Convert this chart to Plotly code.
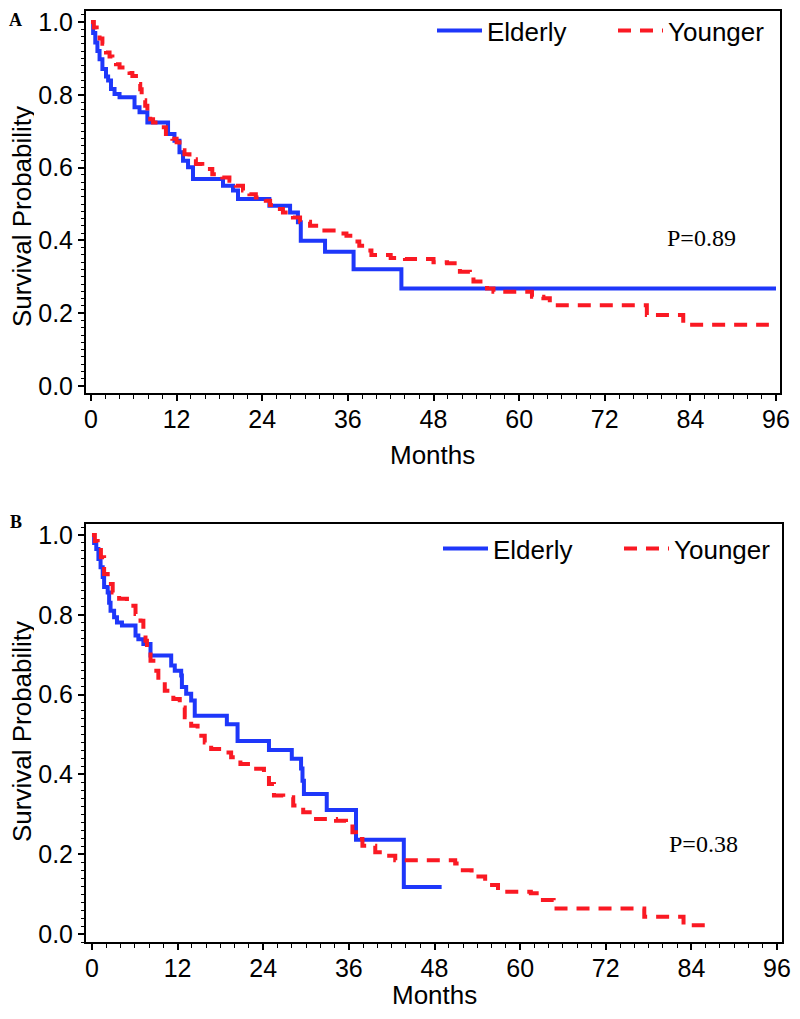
import plotly.graph_objects as go

# Panel A - curvas de sobrevida (meses, probabilidade)
eld_a_t = [0, 0.3, 0.6, 0.9, 1.2, 1.6, 2.1, 2.4, 2.8, 3.3, 4.0, 6.1, 6.8, 7.9, 10.8, 11.7, 12.4, 12.9, 13.6, 14.3,
           18.5, 19.9, 20.6, 25.0, 27.9, 29.0, 29.4, 32.8, 36.8, 43.5, 96]
eld_a_s = [1.0, 0.97, 0.944, 0.92, 0.898, 0.871, 0.85, 0.839, 0.816, 0.802, 0.793, 0.766, 0.752, 0.724, 0.692, 0.674,
           0.642, 0.619, 0.601, 0.569, 0.550, 0.537, 0.514, 0.495, 0.477, 0.450, 0.399, 0.369, 0.321, 0.268, 0.268]

young_a_t = [0, 0.4, 0.8, 1.2, 1.6, 2.1, 2.6, 3.0, 3.5, 4.0, 4.9, 5.4, 5.8, 6.3, 6.6, 6.9, 7.1, 7.4, 7.6, 7.9,
             8.3, 8.7, 9.6, 10.5, 11.4, 12.0, 12.4, 12.8, 13.1, 13.8, 14.7, 15.6, 17.0, 18.4, 19.4, 20.3, 21.3,
             22.2, 23.1, 24.5, 25.1, 25.5, 26.9, 27.9, 28.3, 29.3, 30.7, 32.1, 34.0, 35.8, 36.7, 37.6, 38.4, 39.3,
             42.0, 44.0, 48.0, 49.9, 51.3, 51.7, 53.1, 53.6, 55.0, 55.5, 56.4, 61.8, 63.4, 64.3, 77.9, 83.0, 95.0]
young_a_s = [1.0, 0.985, 0.975, 0.955, 0.94, 0.916, 0.905, 0.893, 0.884, 0.875, 0.866, 0.86, 0.852, 0.84, 0.83,
             0.815, 0.80, 0.785, 0.77, 0.745, 0.733, 0.724, 0.711, 0.692, 0.679, 0.670, 0.660, 0.648, 0.637, 0.623,
             0.610, 0.596, 0.582, 0.573, 0.564, 0.550, 0.537, 0.527, 0.518, 0.509, 0.497, 0.486, 0.477, 0.470,
             0.463, 0.451, 0.440, 0.427, 0.419, 0.413, 0.397, 0.385, 0.372, 0.360, 0.352, 0.349, 0.340, 0.337,
             0.328, 0.314, 0.300, 0.287, 0.282, 0.268, 0.259, 0.245, 0.241, 0.222, 0.195, 0.168, 0.168]

# Panel B
eld_b_t = [0, 0.3, 0.6, 0.9, 1.2, 1.5, 1.7, 2.2, 2.4, 2.6, 3.1, 3.5, 4.2, 6.1, 6.5, 7.2, 8.2, 11.1, 11.6, 12.5,
           12.6, 13.2, 13.9, 14.4, 18.9, 20.4, 24.8, 28.0, 29.3, 29.5, 29.7, 32.9, 37.0, 43.7, 49.0]
eld_b_s = [1.0, 0.98, 0.965, 0.94, 0.919, 0.895, 0.87, 0.856, 0.83, 0.81, 0.794, 0.781, 0.773, 0.748, 0.739, 0.727,
           0.698, 0.673, 0.660, 0.648, 0.619, 0.602, 0.585, 0.547, 0.526, 0.484, 0.461, 0.439, 0.415, 0.384,
           0.351, 0.311, 0.236, 0.118, 0.118]

young_b_t = [0, 0.4, 0.8, 1.25, 1.7, 2.2, 2.9, 3.8, 4.9, 5.4, 6.1, 6.8, 7.2, 7.5, 7.7, 8.2, 8.6, 9.3, 10.2, 11.4,
             12.3, 13.0, 13.9, 14.8, 15.8, 16.7, 18.1, 19.5, 20.8, 22.2, 24.1, 24.8, 25.5, 26.8, 28.2, 29.6, 31.4,
             34.2, 35.6, 36.5, 37.0, 37.9, 39.7, 41.1, 42.5, 50.9, 51.6, 53.2, 55.1, 56.9, 61.5, 62.9, 64.7, 77.4,
             82.9, 86.0]
young_b_s = [1.0, 0.985, 0.977, 0.944, 0.902, 0.877, 0.856, 0.840, 0.831, 0.823, 0.802, 0.785, 0.760, 0.735, 0.718,
             0.685, 0.660, 0.635, 0.610, 0.589, 0.568, 0.543, 0.522, 0.497, 0.480, 0.464, 0.455, 0.443, 0.426,
             0.414, 0.401, 0.376, 0.347, 0.343, 0.322, 0.305, 0.288, 0.284, 0.276, 0.255, 0.238, 0.221, 0.205,
             0.196, 0.185, 0.177, 0.160, 0.144, 0.123, 0.106, 0.102, 0.085, 0.064, 0.043, 0.022, 0.022]

x_ticks = [0, 12, 24, 36, 48, 60, 72, 84, 96]
y_ticks = [0.0, 0.2, 0.4, 0.6, 0.8, 1.0]
p_values = ["P=0.89", "P=0.38"]

# o body da pagina tem margem de 8px; a figura cabe na janela 800x1019 sem rolagem
OFF = 8
W, H = 800 - 2 * OFF, 1019 - 2 * OFF - 1
BLUE = "rgb(30,55,250)"
RED = "rgb(250,25,35)"
SANS = "Liberation Sans, Arial, sans-serif"
SERIF = "Liberation Serif, Times New Roman, serif"

fig = go.Figure()

fig.add_trace(go.Scatter(x=eld_a_t, y=eld_a_s, mode="lines", line_shape="hv", name="Elderly",
                         line=dict(color=BLUE, width=4), xaxis="x", yaxis="y", legend="legend"))
fig.add_trace(go.Scatter(x=young_a_t, y=young_a_s, mode="lines", line_shape="hv", name="Younger",
                         line=dict(color=RED, width=4, dash="13px,9px"), xaxis="x", yaxis="y", legend="legend"))
fig.add_trace(go.Scatter(x=eld_b_t, y=eld_b_s, mode="lines", line_shape="hv", name="Elderly",
                         line=dict(color=BLUE, width=4), xaxis="x2", yaxis="y2", legend="legend2"))
fig.add_trace(go.Scatter(x=young_b_t, y=young_b_s, mode="lines", line_shape="hv", name="Younger",
                         line=dict(color=RED, width=4, dash="13px,9px"), xaxis="x2", yaxis="y2", legend="legend2"))


# posicoes em pixels da janela -> fracao do "paper"
def px_x(p):
    return (p - OFF) / W


def px_y(p):
    return 1 - (p - OFF) / H


common_x = dict(tickvals=x_ticks, ticks="outside", ticklen=6, tickwidth=2, tickcolor="black",
                showline=True, linecolor="black", linewidth=2, mirror=True, showgrid=False, zeroline=False,
                tickfont=dict(family=SANS, size=25, color="black"), ticklabeloverflow="allow",
                ticklabelstandoff=-3,
                minor=dict(dtick=2, ticks="outside", ticklen=4, tickwidth=1, tickcolor="black"))
common_y = dict(tickvals=y_ticks, tickformat=".1f", ticks="outside", ticklen=6, tickwidth=2, tickcolor="black",
                showline=True, linecolor="black", linewidth=2, mirror=True, showgrid=False, zeroline=False,
                tickfont=dict(family=SANS, size=25, color="black"), ticklabeloverflow="allow",
                minor=dict(dtick=0.02, ticks="outside", ticklen=3, tickwidth=1, tickcolor="black"))

fig.update_layout(
    width=W, height=H,
    # sem autoexpand: a legenda nao pode empurrar a margem e encolher os graficos
    margin=dict(l=0, r=0, t=0, b=0, autoexpand=False),
    plot_bgcolor="white", paper_bgcolor="white",
    xaxis=dict(domain=[px_x(86), px_x(780)], range=[-0.7, 96.56], anchor="y", **common_x),
    yaxis=dict(domain=[px_y(393), px_y(10.5)], range=[-0.0192, 1.0316], anchor="x", **common_y),
    # painel B um pouco mais estreito para o rotulo "96" caber na janela
    xaxis2=dict(domain=[px_x(86), px_x(782)], range=[-0.84, 96.70], anchor="y2", **common_x),
    yaxis2=dict(domain=[px_y(942), px_y(524)], range=[-0.020, 1.0276], anchor="x2", **common_y),
    legend=dict(orientation="h", x=px_x(432), xanchor="left", y=px_y(7), yanchor="top",
                font=dict(family=SANS, size=26, color="black"), bgcolor="rgba(0,0,0,0)",
                entrywidth=121, itemwidth=45),
    legend2=dict(orientation="h", x=px_x(438), xanchor="left", y=px_y(525), yanchor="top",
                 font=dict(family=SANS, size=26, color="black"), bgcolor="rgba(0,0,0,0)",
                 entrywidth=121, itemwidth=45),
)

annots = [
    dict(text="<b>A</b>", x=px_x(16), y=px_y(20), font=dict(family=SERIF, size=18)),
    dict(text="<b>B</b>", x=px_x(16), y=px_y(522), font=dict(family=SERIF, size=18)),
    dict(text="Survival Probability", x=px_x(22), y=px_y(217), textangle=-90, height=24,
         font=dict(family=SANS, size=26)),
    dict(text="Survival Probability", x=px_x(22), y=px_y(732), textangle=-90, height=24,
         font=dict(family=SANS, size=26)),
    dict(text="Months", x=px_x(432), y=px_y(455), height=24, font=dict(family=SANS, size=26)),
    dict(text="Months", x=px_x(434), y=px_y(995), height=24, font=dict(family=SANS, size=26)),
]
for a in annots:
    a["font"]["color"] = "black"
    fig.add_annotation(xref="paper", yref="paper", xanchor="center", yanchor="middle", showarrow=False, **a)

# valores de P dentro de cada painel
fig.add_annotation(text=p_values[0], x=85.5, y=0.407, xref="x", yref="y", showarrow=False,
                   xanchor="center", yanchor="middle", font=dict(family=SERIF, size=24, color="black"))
fig.add_annotation(text=p_values[1], x=85.7, y=0.226, xref="x2", yref="y2", showarrow=False,
                   xanchor="center", yanchor="middle", font=dict(family=SERIF, size=24, color="black"))

fig.write_html("out.html")
